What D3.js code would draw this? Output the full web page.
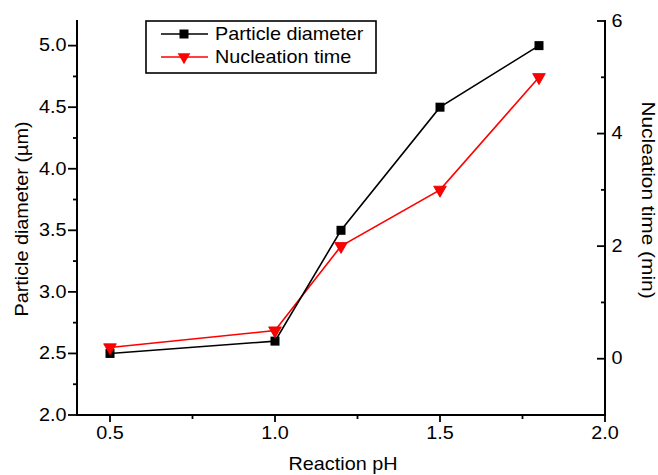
<!DOCTYPE html>
<html><head><meta charset="utf-8">
<script src="https://cdn.jsdelivr.net/npm/d3@7"></script>
<style>body{margin:0;background:#fff}svg{display:block}text{font-family:Arial,"Liberation Sans",sans-serif;fill:#000}</style>
</head><body>
<svg id="c" width="658" height="475"></svg>
<script>
const phValues = [0.5, 1.0, 1.2, 1.5, 1.8];
const particleDiameter = [2.5, 2.6, 3.5, 4.5, 5.0];
const nucleationTime = [0.2, 0.5, 2.0, 3.0, 5.0];
const xTicks = [0.5, 1.0, 1.5, 2.0];
const yLeftTicks = [2.0, 2.5, 3.0, 3.5, 4.0, 4.5, 5.0];
const yRightTicks = [0, 2, 4, 6];
const seriesNames = ["Particle diameter", "Nucleation time"];

const svg = d3.select("#c");
const L = 77, R = 605, T = 21, B = 415;
const x = d3.scaleLinear().domain([0.4, 2.0]).range([L, R]);
const yL = d3.scaleLinear().domain([2.0, 5.2]).range([B, T]);
const yR = d3.scaleLinear().domain([-1, 6]).range([B, T]);
const fs = 18, sx = 1.1;
const isMajor = (arr, d) => arr.some(t => Math.abs(t - d) < 1e-6);

// bottom axis
const gx = svg.append("g").attr("transform", `translate(0,${B})`)
  .call(d3.axisBottom(x).offset(0).tickValues(d3.range(0.5, 2.0001, 0.25)).tickSizeOuter(0)
    .tickFormat(d => isMajor(xTicks, d) ? d3.format(".1f")(d) : ""));
gx.selectAll(".tick line").attr("y2", d => isMajor(xTicks, d) ? 7 : 4);
gx.selectAll(".tick text").attr("font-size", fs).attr("dy", "0.71em").attr("y", 11)
  .attr("transform", `scale(${sx},1)`);

// left axis
const gyl = svg.append("g").attr("transform", `translate(${L},0)`)
  .call(d3.axisLeft(yL).offset(0).tickValues(d3.range(2.0, 5.0001, 0.25)).tickSizeOuter(0)
    .tickFormat(d => isMajor(yLeftTicks, d) ? d3.format(".1f")(d) : ""));
gyl.selectAll(".tick line").attr("x2", d => isMajor(yLeftTicks, d) ? -9 : -4);
gyl.selectAll(".tick text").attr("font-size", fs).attr("x", -10.5 / sx).attr("transform", `scale(${sx},1)`);

// right axis
const gyr = svg.append("g").attr("transform", `translate(${R},0)`)
  .call(d3.axisRight(yR).offset(0).tickValues([0,1,2,3,4,5,6]).tickSizeOuter(0)
    .tickFormat(d => yRightTicks.includes(d) ? d : ""));
gyr.selectAll(".tick line").attr("x2", d => yRightTicks.includes(d) ? -8 : -4);
gyr.selectAll(".tick text").attr("font-size", fs).attr("x", 6.5 / sx).attr("transform", `scale(${sx},1)`);

[gx, gyl, gyr].forEach(g => {
  g.select(".domain").remove();
  g.selectAll(".tick line").attr("stroke", "#000").attr("stroke-width", 1.8);
});
// axis frame lines (left, right, bottom)
const frame = svg.append("g").attr("stroke", "#000").attr("stroke-width", 2).attr("stroke-linecap", "square");
frame.append("line").attr("x1", L).attr("x2", L).attr("y1", T).attr("y2", B);
frame.append("line").attr("x1", R).attr("x2", R).attr("y1", T).attr("y2", B);
frame.append("line").attr("x1", L).attr("x2", R).attr("y1", B).attr("y2", B);

// titles
svg.append("text").attr("transform", `translate(${(L + R) / 2 + 2},470) scale(${sx},1)`).attr("text-anchor", "middle").attr("font-size", fs).text("Reaction pH");
svg.append("text").attr("transform", `translate(28,219) rotate(-90) scale(${sx},1)`).attr("text-anchor", "middle").attr("font-size", fs).text("Particle diameter (µm)");
svg.append("text").attr("transform", `translate(642,200) rotate(90) scale(1.16,1)`).attr("text-anchor", "middle").attr("font-size", fs).text("Nucleation time (min)");

// series
const dataP = phValues.map((p, i) => ({x: p, y: particleDiameter[i]}));
const dataN = phValues.map((p, i) => ({x: p, y: nucleationTime[i]}));
const tri = d3.symbol().type(d3.symbolTriangle).size(70);

svg.append("path").datum(dataN).attr("fill", "none").attr("stroke", "#ff0000").attr("stroke-width", 1.6)
  .attr("d", d3.line().x(d => x(d.x)).y(d => yR(d.y)));
svg.append("path").datum(dataP).attr("fill", "none").attr("stroke", "#000").attr("stroke-width", 1.6)
  .attr("d", d3.line().x(d => x(d.x)).y(d => yL(d.y)));
svg.selectAll(".sq").data(dataP).enter().append("rect")
  .attr("x", d => x(d.x) - 4.5).attr("y", d => yL(d.y) - 4.5).attr("width", 9).attr("height", 9).attr("fill", "#000");
svg.selectAll(".tr").data(dataN).enter().append("path")
  .attr("d", tri).attr("transform", d => `translate(${x(d.x)},${yR(d.y)}) rotate(180)`)
  .attr("fill", "#ff0000").attr("stroke", "#e00000").attr("stroke-width", 0.8);

// legend
const lg = svg.append("g");
lg.append("rect").attr("x", 146).attr("y", 21).attr("width", 230).attr("height", 52).attr("fill", "#fff").attr("stroke", "#000").attr("stroke-width", 1.6);
const rows = [{name: seriesNames[0], c: "#000", y: 34}, {name: seriesNames[1], c: "#ff0000", y: 57}];
rows.forEach((r, i) => {
  lg.append("line").attr("x1", 161).attr("x2", 208).attr("y1", r.y).attr("y2", r.y).attr("stroke", r.c).attr("stroke-width", 1.6);
  if (i === 0) lg.append("rect").attr("x", 184 - 4.5).attr("y", r.y - 4.5).attr("width", 9).attr("height", 9).attr("fill", "#000");
  else lg.append("path").attr("d", tri).attr("transform", `translate(184,${r.y}) rotate(180)`).attr("fill", "#ff0000");
  lg.append("text").attr("transform", `translate(215,${r.y}) scale(${sx},1)`).attr("dy", "0.35em").attr("font-size", fs).text(r.name);
});
</script>
</body></html>
